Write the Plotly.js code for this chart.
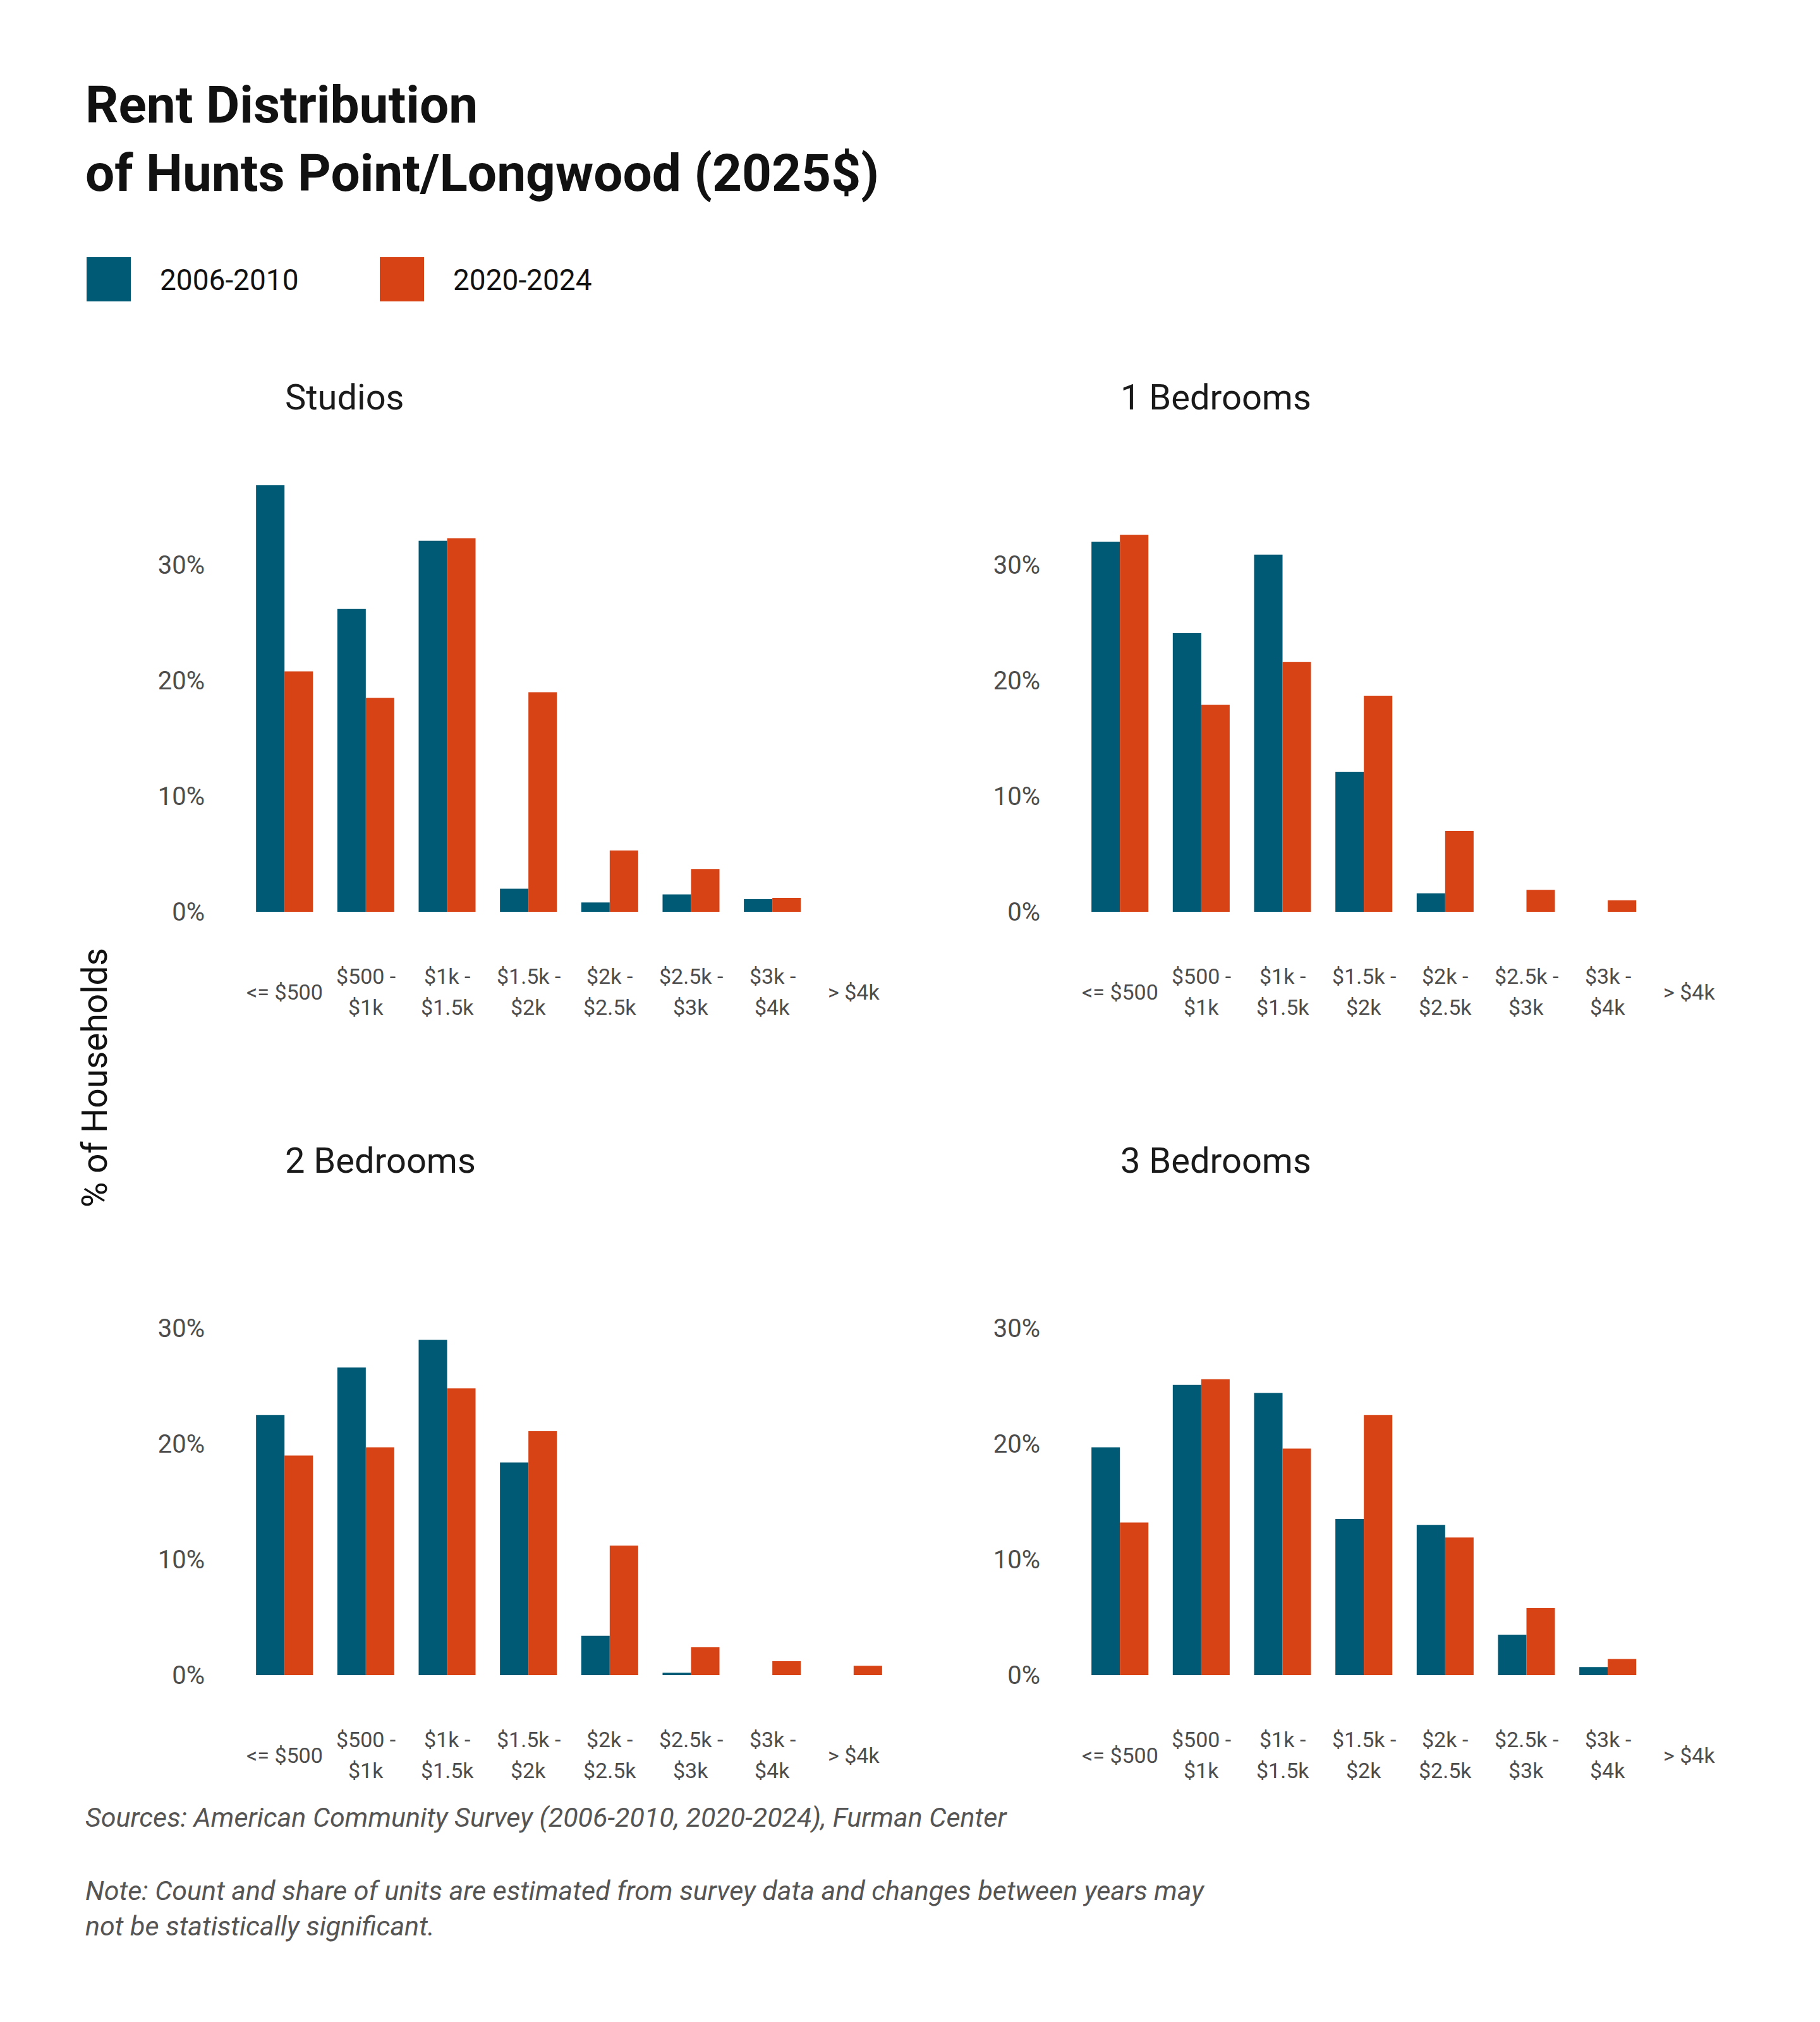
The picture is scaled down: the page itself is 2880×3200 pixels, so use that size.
<!DOCTYPE html>
<html>
<head>
<meta charset="utf-8">
<script src="https://cdn.plot.ly/plotly-3.0.1.min.js"></script>
<style>
  body { margin: 0; background: #fff; }
  #chart { width: 2880px; height: 3200px; }
</style>
</head>
<body>
<div id="chart"></div>
<script>
// rent bands, shared by all four panels
var categories = ['<= $500', '$500 - $1k', '$1k - $1.5k', '$1.5k - $2k', '$2k - $2.5k', '$2.5k - $3k', '$3k - $4k', '> $4k'];
var tickLabels = ['<= $500', '$500 -|$1k', '$1k -|$1.5k', '$1.5k -|$2k', '$2k -|$2.5k', '$2.5k -|$3k', '$3k -|$4k', '> $4k'];

var seriesNames = ['2006-2010', '2020-2024'];
var panelTitles = ['Studios', '1 Bedrooms', '2 Bedrooms', '3 Bedrooms'];

// % of households
var studios2010 = [36.9, 26.2, 32.1, 2.0, 0.8, 1.5, 1.1, null];
var studios2024 = [20.8, 18.5, 32.3, 19.0, 5.3, 3.7, 1.2, null];
var oneBed2010 = [32.0, 24.1, 30.9, 12.1, 1.6, null, null, null];
var oneBed2024 = [32.6, 17.9, 21.6, 18.7, 7.0, 1.9, 1.0, null];
var twoBed2010 = [22.5, 26.6, 29.0, 18.4, 3.4, 0.2, null, null];
var twoBed2024 = [19.0, 19.7, 24.8, 21.1, 11.2, 2.4, 1.2, 0.8];
var threeBed2010 = [19.7, 25.1, 24.4, 13.5, 13.0, 3.5, 0.7, null];
var threeBed2024 = [13.2, 25.6, 19.6, 22.5, 11.9, 5.8, 1.4, null];

var yTicks = [0, 10, 20, 30];
var yTickText = ['0%', '10%', '20%', '30%'];

var BLUE = '#005a75';
var ORANGE = '#d84315';
var W = 2880, H = 3200;

function px(x) { return x / W; }
function py(y) { return 1 - y / H; }

var panels = [
    {old: studios2010, now: studios2024, col: 0, row: 0},
    {old: oneBed2010, now: oneBed2024, col: 1, row: 0},
    {old: twoBed2010, now: twoBed2024, col: 0, row: 1},
    {old: threeBed2010, now: threeBed2024, col: 1, row: 1}
];

// pixel boxes of the panels
var colX = [[373, 1428], [1695, 2750]];
var rowBase = [1443, 2651];
var rowTop = [735, 1943];

var traces = [];
var layout = {
    width: W, height: H,
    margin: {l: 0, r: 0, t: 0, b: 0},
    paper_bgcolor: '#fff',
    plot_bgcolor: '#fff',
    barmode: 'group',
    bargap: 0.3,
    bargroupgap: 0,
    showlegend: false,
    font: {family: 'Roboto, sans-serif', color: '#4d4d4d'},
    annotations: [],
    shapes: []
};

panels.forEach(function (p, i) {
    var n = i + 1;
    var xa = 'x' + (n === 1 ? '' : n), ya = 'y' + (n === 1 ? '' : n);
    traces.push({type: 'bar', x: categories, y: p.old, name: seriesNames[0],
        marker: {color: BLUE}, xaxis: xa, yaxis: ya, hoverinfo: 'skip'});
    traces.push({type: 'bar', x: categories, y: p.now, name: seriesNames[1],
        marker: {color: ORANGE}, xaxis: xa, yaxis: ya, hoverinfo: 'skip'});

    var xk = 'xaxis' + (n === 1 ? '' : n), yk = 'yaxis' + (n === 1 ? '' : n);
    layout[xk] = {
        domain: [px(colX[p.col][0]), px(colX[p.col][1])],
        anchor: ya,
        type: 'category',
        categoryorder: 'array', categoryarray: categories,
        range: [-0.6, 7.6],
        showticklabels: false, showgrid: false, zeroline: false, showline: false, ticks: ''
    };
    layout[yk] = {
        domain: [py(rowBase[p.row]), py(rowTop[p.row])],
        anchor: xa,
        range: [0, 38.7],
        tickvals: yTicks,
        ticktext: yTickText,
        tickfont: {size: 40, color: '#4d4d4d'},
        ticklabelstandoff: 48,
        showgrid: false, zeroline: false, showline: false, ticks: ''
    };

    // category labels, two lines where the band has a range
    tickLabels.forEach(function (lab, k) {
        var parts = lab.split('|');
        var ys = parts.length === 1 ? [127] : [102, 151];
        parts.forEach(function (t, j) {
            layout.annotations.push({
                xref: xa, yref: 'paper', x: categories[k], y: py(rowBase[p.row] + ys[j]),
                text: t, showarrow: false, xanchor: 'center', yanchor: 'middle',
                font: {size: 34, color: '#4d4d4d'}
            });
        });
    });

    // panel title
    layout.annotations.push({
        xref: 'paper', yref: 'paper',
        x: px(colX[p.col][0] + 76), y: py(rowTop[p.row] - 106),
        text: panelTitles[i], showarrow: false, xanchor: 'left', yanchor: 'middle',
        font: {size: 56, color: '#1a1a1a'}
    });
});

// title
layout.annotations.push({
    xref: 'paper', yref: 'paper', x: px(133), y: py(166), xanchor: 'left', yanchor: 'middle',
    text: '<b>Rent Distribution</b>', showarrow: false,
    font: {size: 82, color: '#111', family: 'Roboto, sans-serif'}
});
layout.annotations.push({
    xref: 'paper', yref: 'paper', x: px(133), y: py(274), xanchor: 'left', yanchor: 'middle',
    text: '<b>of Hunts Point/Longwood (2025$)</b>', showarrow: false,
    font: {size: 82, color: '#111', family: 'Roboto, sans-serif'}
});

// legend swatches and labels
var legendX = [137, 601];
var legendColors = [BLUE, ORANGE];
seriesNames.forEach(function (s, k) {
    layout.shapes.push({
        type: 'rect', xref: 'paper', yref: 'paper',
        x0: px(legendX[k]), x1: px(legendX[k] + 70), y0: py(477), y1: py(407),
        fillcolor: legendColors[k], line: {width: 0}
    });
    layout.annotations.push({
        xref: 'paper', yref: 'paper', x: px(legendX[k] + 114), y: py(443),
        xanchor: 'left', yanchor: 'middle', text: s, showarrow: false,
        font: {size: 46, color: '#111'}
    });
});

// y axis title
layout.annotations.push({
    xref: 'paper', yref: 'paper', x: px(150), y: py(1706), textangle: -90,
    xanchor: 'center', yanchor: 'middle', text: '% of Households', showarrow: false,
    font: {size: 55, color: '#111'}
});

// sources and note
layout.annotations.push({
    xref: 'paper', yref: 'paper', x: px(133), y: py(2876), xanchor: 'left', yanchor: 'middle',
    text: '<i>Sources: American Community Survey (2006-2010, 2020-2024), Furman Center</i>',
    showarrow: false, font: {size: 43, color: '#555'}
});
layout.annotations.push({
    xref: 'paper', yref: 'paper', x: px(133), y: py(3020), xanchor: 'left', yanchor: 'middle',
    align: 'left',
    text: '<i>Note: Count and share of units are estimated from survey data and changes between years may<br>not be statistically significant.</i>',
    showarrow: false, font: {size: 43, color: '#555'}
});

Plotly.newPlot('chart', traces, layout, {staticPlot: true});
</script>
</body>
</html>
